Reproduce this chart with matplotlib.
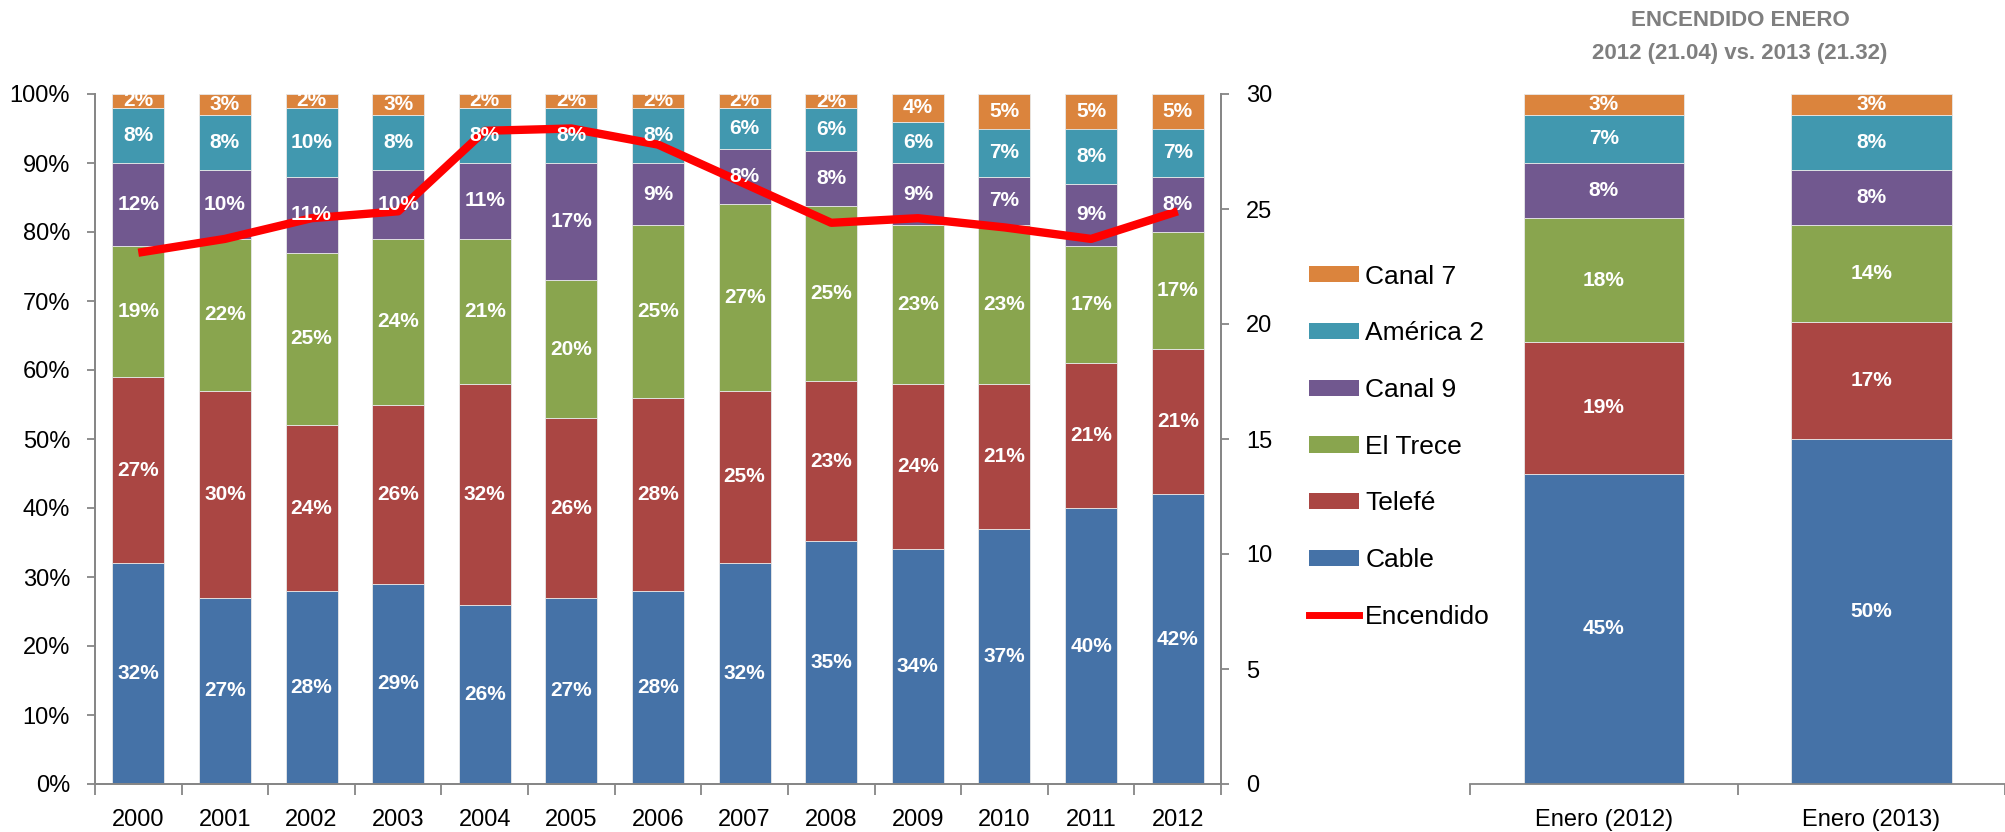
import matplotlib
matplotlib.use('Agg')
from matplotlib import pyplot as plt
from matplotlib.patches import Patch
from matplotlib.lines import Line2D

plt.rcParams['font.family'] = ['Liberation Sans Narrow', 'Liberation Sans', 'DejaVu Sans']

# data
years = ['2000', '2001', '2002', '2003', '2004', '2005', '2006',
         '2007', '2008', '2009', '2010', '2011', '2012']
cable = [32, 27, 28, 29, 26, 27, 28, 32, 35.2, 34, 37, 40, 42]
telefe = [27, 30, 24, 26, 32, 26, 28, 25, 23.2, 24, 21, 21, 21]
el_trece = [19, 22, 25, 24, 21, 20, 25, 27, 25.4, 23, 23, 17, 17]
canal_9 = [12, 10, 11, 10, 11, 17, 9, 8, 8, 9, 7, 9, 8]
america_2 = [8, 8, 10, 8, 8, 8, 8, 6, 6.1, 6, 7, 8, 7]
canal_7 = [2, 3, 2, 3, 2, 2, 2, 2, 2.1, 4, 5, 5, 5]
encendido = [23.1, 23.7, 24.6, 24.9, 28.4, 28.5, 27.8,
             26.1, 24.4, 24.6, 24.2, 23.7, 24.9]

enero = ['Enero (2012)', 'Enero (2013)']
enero_cable = [45, 50]
enero_telefe = [19, 17]
enero_trece = [18, 14]
enero_canal9 = [8, 8]
enero_america = [7, 8]
enero_canal7 = [3, 3]

names = ['Cable', 'Telefé', 'El Trece', 'Canal 9', 'América 2', 'Canal 7']
colors = ['#4572A7', '#AA4643', '#89A54E', '#71588F', '#4198AF', '#DB843D']
grey = '#868686'

fig = plt.figure(figsize=(20.05, 8.32), dpi=100)
ax = fig.add_axes([95 / 2005, 1 - 784 / 832, 1126 / 2005, 690 / 832])
ax2 = ax.twinx()

x = list(range(len(years)))
series = [cable, telefe, el_trece, canal_9, america_2, canal_7]
bottom = [0] * len(years)
for vals, c in zip(series, colors):
    ax.bar(x, vals, width=0.6, bottom=bottom, color=c,
           edgecolor='#e8e8e8', linewidth=0.6, zorder=2)
    for i, v in enumerate(vals):
        # labels go on the twin axes so they sit above the red line
        ax2.text(i, bottom[i] + v / 2, '%.0f%%' % v, transform=ax.transData,
                 ha='center', va='center', color='white', fontsize=15,
                 fontweight='bold', clip_on=True, zorder=5)
    bottom = [b + v for b, v in zip(bottom, vals)]

ax2.plot(x, encendido, color='#FF0000', linewidth=6, zorder=3,
         solid_capstyle='butt')

ax.set_xlim(-0.5, len(years) - 0.5)
ax.set_ylim(0, 100)
ax2.set_ylim(0, 30)
ax.set_yticks(range(0, 101, 10))
ax.set_yticklabels(['%d%%' % t for t in range(0, 101, 10)])
ax2.set_yticks(range(0, 31, 5))
ax.set_xticks(x)
ax.set_xticklabels(years)
ax.set_xticks([i - 0.5 for i in range(len(years) + 1)], minor=True)

ax.tick_params(axis='x', which='major', length=0, pad=18, labelsize=17)
ax.tick_params(axis='x', which='minor', length=8, width=1.3, color=grey,
               direction='out')
ax.tick_params(axis='y', length=6, width=1.3, color=grey, pad=12,
               labelsize=17)
ax2.tick_params(axis='y', length=6, width=1.3, color=grey, pad=12,
                labelsize=17)

for a in (ax, ax2):
    a.spines['top'].set_visible(False)
    for s in ('left', 'right', 'bottom'):
        a.spines[s].set_color(grey)
        a.spines[s].set_linewidth(1.3)

# right chart: January comparison
bx = fig.add_axes([1470 / 2005, 1 - 784 / 832, 535 / 2005, 690 / 832])
ex = [0, 1]
eseries = [enero_cable, enero_telefe, enero_trece,
           enero_canal9, enero_america, enero_canal7]
ebottom = [0, 0]
for vals, c in zip(eseries, colors):
    bx.bar(ex, vals, width=0.6, bottom=ebottom, color=c,
           edgecolor='#e8e8e8', linewidth=0.6)
    for i, v in enumerate(vals):
        bx.text(i, ebottom[i] + v / 2, '%d%%' % v, ha='center', va='center',
                color='white', fontsize=15, fontweight='bold', clip_on=True)
    ebottom = [b + v for b, v in zip(ebottom, vals)]

bx.set_xlim(-0.5, 1.48)
bx.set_ylim(0, 100)
bx.set_yticks([])
bx.set_xticks(ex)
bx.set_xticklabels(enero)
bx.set_xticks([-0.5, 0.5, 1.5], minor=True)
bx.tick_params(axis='x', which='major', length=0, pad=18, labelsize=17)
bx.tick_params(axis='x', which='minor', length=8, width=1.3, color=grey)
for s in ('left', 'right', 'top'):
    bx.spines[s].set_visible(False)
bx.spines['bottom'].set_color(grey)
bx.spines['bottom'].set_linewidth(1.3)

fig.text(1740 / 2005, 1 - 21 / 832, 'ENCENDIDO ENERO', ha='center',
         va='center', fontsize=16, fontweight='bold', color='#7F7F7F')
fig.text(1740 / 2005, 1 - 53 / 832, '2012 (21.04) vs. 2013 (21.32)',
         ha='center', va='center', fontsize=16, fontweight='bold',
         color='#7F7F7F')

# legend between the charts
handles = [Patch(facecolor=c, label=n) for n, c in zip(names, colors)][::-1]
handles.append(Line2D([0], [0], color='#FF0000', linewidth=5,
                      label='Encendido'))
fig.legend(handles=handles, loc='upper left',
           bbox_to_anchor=(1298 / 2005, 1 - 254 / 832), frameon=False,
           fontsize=19, handlelength=1.9, handleheight=0.57,
           labelspacing=1.24, handletextpad=0.25, borderaxespad=0)

plt.savefig('out.png', dpi=100)
